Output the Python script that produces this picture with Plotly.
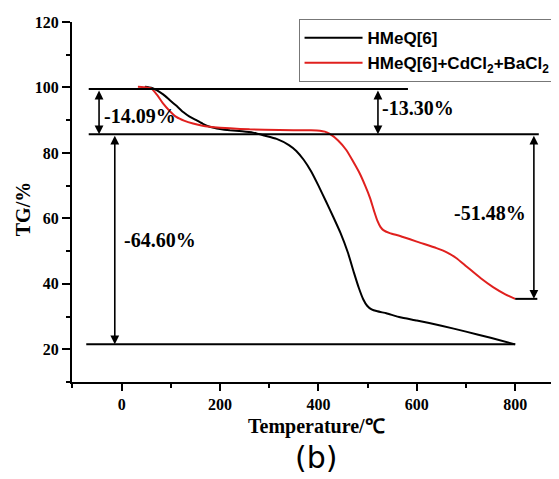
import plotly.graph_objects as go

# ---- data ----
temp_black = [47, 60, 71, 85, 98, 112, 125, 138, 152, 165, 179, 200, 220, 245, 267, 290, 315,
              340, 355, 370, 385, 400, 415, 430, 445, 460, 472, 482, 491, 499, 508, 520, 538,
              566, 600, 650, 700, 750, 800]
tg_black = [100.2, 99.9, 99.2, 97.8, 96.1, 94.3, 92.5, 91.1, 90.0, 88.9, 88.0, 87.3, 86.9,
            86.6, 86.2, 85.3, 84.3, 82.4, 80.6, 77.9, 74.4, 70.0, 65.3, 60.5, 55.5, 49.5,
            43.5, 38.8, 35.3, 33.3, 32.2, 31.6, 31.0, 29.8, 28.8, 27.2, 25.4, 23.5, 21.5]

temp_red = [33, 45, 60, 72, 84, 97, 111, 128, 145, 162, 179, 200, 220, 260, 320, 380, 403, 413,
            423, 440, 457, 470, 484, 495, 505, 513, 520, 526, 532, 545, 566, 606, 640, 660,
            680, 701, 730, 755, 780, 800]
tg_red = [100.2, 100.1, 99.7, 97.7, 95.1, 92.9, 91.0, 89.8, 89.0, 88.4, 88.0, 87.7, 87.5, 87.2,
          87.0, 86.9, 86.8, 86.5, 85.8, 83.8, 80.8, 77.5, 73.7, 70.0, 66.2, 62.3, 59.2, 57.4,
          56.4, 55.5, 54.6, 52.6, 50.9, 49.7, 47.9, 45.3, 41.7, 39.0, 36.8, 35.4]

series_names = ["HMeQ[6]", "HMeQ[6]+CdCl<sub>2</sub>+BaCl<sub>2</sub>"]

# reference levels (horizontal guide lines): y level, x start, x end
level_y = [99.5, 85.7, 21.5, 35.4]
level_x0 = [-67, -67, -72, 800]
level_x1 = [582, 848, 800, 845]

# double arrows: x position, y top, y bottom
arrow_x = [-46, -14, 521, 838]
arrow_top = [99.5, 85.7, 99.5, 85.7]
arrow_bot = [85.7, 21.5, 85.7, 35.4]

# labels of mass loss
loss_text = ["-14.09%", "-64.60%", "-13.30%", "-51.48%"]
loss_x = [-40, 0, 525, 826]
loss_y = [91.2, 53.3, 93.6, 61.5]
loss_anchor = ["left", "left", "left", "right"]

serif = "Liberation Serif"

fig = go.Figure()
fig.add_trace(go.Scatter(x=temp_black, y=tg_black, mode="lines", name=series_names[0],
                         line=dict(color="black", width=2, shape="spline", smoothing=0.4)))
fig.add_trace(go.Scatter(x=temp_red, y=tg_red, mode="lines", name=series_names[1],
                         line=dict(color="#e0201e", width=2, shape="spline", smoothing=0.6)))

for yv, x0, x1 in zip(level_y, level_x0, level_x1):
    fig.add_shape(type="line", xref="x", yref="y", x0=x0, x1=x1, y0=yv, y1=yv,
                  line=dict(color="black", width=2))

for xa, yt, yb in zip(arrow_x, arrow_top, arrow_bot):
    fig.add_annotation(x=xa, y=yb, ax=xa, ay=yt, xref="x", yref="y", axref="x", ayref="y",
                       text="", showarrow=True, arrowhead=2, arrowside="end+start",
                       arrowsize=1.1, arrowwidth=1.6, arrowcolor="black", standoff=0,
                       startstandoff=0)

for t, xv, yv, an in zip(loss_text, loss_x, loss_y, loss_anchor):
    fig.add_annotation(x=xv, y=yv, xref="x", yref="y", text=t, showarrow=False,
                       xanchor=an, yanchor="middle",
                       font=dict(family=serif, size=20, color="black", weight="bold"))

# axis titles & caption
fig.add_annotation(x=0.505, y=-0.123, xref="paper", yref="paper", text="Temperature/℃",
                   showarrow=False, xanchor="center", yanchor="middle",
                   font=dict(family=serif, size=20, color="black", weight="bold"))
fig.add_annotation(x=-0.101, y=0.48, xref="paper", yref="paper", text="TG/%",
                   showarrow=False, xanchor="center", yanchor="middle", textangle=-90,
                   font=dict(family=serif, size=20, color="black", weight="bold"))
fig.add_annotation(x=0.503, y=-0.21, xref="paper", yref="paper", text="(b)",
                   showarrow=False, xanchor="center", yanchor="middle",
                   font=dict(family="DejaVu Sans", size=30, color="black"))

axis_common = dict(showline=True, linecolor="black", linewidth=2, showgrid=False,
                   zeroline=False, ticks="outside", tickcolor="black", tickwidth=2,
                   mirror=False, automargin=False,
                   tickfont=dict(family=serif, size=16, color="black", weight="bold"))

fig.update_xaxes(range=[-101, 885], tick0=0, dtick=200, ticklen=7,
                 minor=dict(dtick=100, tick0=0, ticks="outside", ticklen=4, tickwidth=2,
                            tickcolor="black", showgrid=False),
                 **axis_common)
fig.update_yaxes(range=[10, 120], tick0=0, dtick=20, ticklen=8,
                 minor=dict(dtick=10, tick0=0, ticks="outside", ticklen=4, tickwidth=2,
                            tickcolor="black", showgrid=False),
                 **axis_common)

# page body has an 8px margin, so the figure is drawn 8px smaller and offset
fig.update_layout(
    width=551, height=471,
    margin=dict(l=64, r=2, t=14, b=97, autoexpand=False),
    paper_bgcolor="white", plot_bgcolor="white",
    showlegend=True,
    legend=dict(x=0.997, y=1.008, xanchor="right", yanchor="top",
                bordercolor="#777777", borderwidth=1, bgcolor="white",
                font=dict(family="Liberation Sans", size=17, color="black", weight="bold"),
                tracegroupgap=0, itemwidth=58),
)

fig.write_html("out.html")
